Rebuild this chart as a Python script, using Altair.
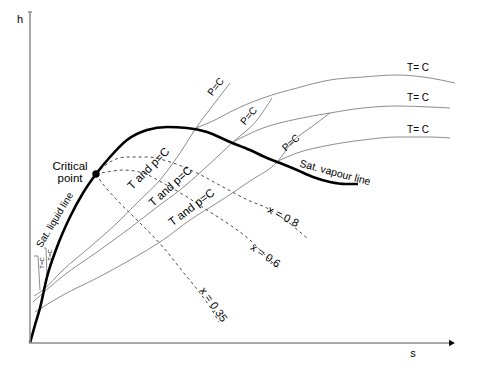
import altair as alt
import pandas as pd

# Schematic h-s (Mollier) diagram; s and h in arbitrary diagram units
sat_s = [0, 5, 10, 17, 27, 40, 53, 66, 80, 97, 117, 137, 157, 177, 200, 220, 237, 250, 267, 283, 300, 315, 328]
sat_h = [0, 18, 35, 66, 96, 126, 150, 169, 186, 203, 213, 216, 215, 211, 201, 193, 185, 180, 173, 166, 161, 159, 159]

crit_s = [66]
crit_h = [169]

p1_s = [4, 13, 33, 60, 87, 110, 130, 150, 166, 187, 200]
p1_h = [47, 53, 73, 96, 120, 143, 163, 190, 215, 243, 260]
p2_s = [3, 33, 67, 100, 127, 150, 173, 203, 227, 242]
p2_h = [41, 67, 91, 115, 136, 153, 173, 201, 223, 245]
p3_s = [5, 33, 67, 100, 133, 160, 187, 220, 248, 263, 280, 300]
p3_h = [31, 48, 65, 83, 103, 123, 140, 162, 182, 202, 215, 230]

t1_s = [166, 185, 200, 233, 267, 300, 333, 367, 393, 425]
t1_h = [215, 223, 231, 245, 255, 263, 266, 268, 266, 260]
t2_s = [203, 233, 267, 300, 333, 367, 400, 420]
t2_h = [201, 215, 224, 230, 235, 237, 236, 235]
t3_s = [248, 267, 300, 333, 367, 400, 420]
t3_h = [182, 190, 198, 203, 206, 206, 205]

tl1_s = [4, 8, 8, 10]
tl1_h = [87, 87, 87, 53]
tl2_s = [14, 16, 16, 17]
tl2_h = [95, 95, 95, 65]

x08_s = [66, 80, 97, 117, 140, 167, 193, 220, 237, 255, 277]
x08_h = [169, 181, 186, 186, 181, 170, 156, 142, 135, 123, 105]
x06_s = [66, 77, 93, 113, 133, 157, 180, 200, 220, 235, 248]
x06_h = [169, 171, 173, 170, 160, 146, 131, 118, 103, 88, 75]
x035_s = [66, 70, 87, 110, 133, 153, 170, 180, 189]
x035_h = [169, 163, 143, 120, 96, 71, 50, 36, 21]

axis_s = [0, 0, 420]
axis_h = [331, 0, 0]
cap_s = [-2, 2]
cap_h = [331, 331]
arrow_s = [422]
arrow_h = [0]

labels = ["h", "s", "Critical", "point", "Sat. liquid line",
          "T and p=C", "T and p=C", "T and p=C",
          "P=C", "P=C", "P=C", "T= C", "T= C", "T= C",
          "Sat. vapour line", "x = 0.8", "x = 0.6", "x = 0.35", "T=C", "T=C"]
label_s = [-10, 383, 40, 40, 25, 119, 141, 162, 186, 219, 261, 388, 388, 388, 305, 253, 235, 183, 12, 20]
label_h = [323, -11, 176, 164, 123, 174, 156, 135, 256, 227, 200, 275, 245, 213, 170, 126, 87, 38, 80, 88]
label_angle = [0, 0, 0, 0, 301, 315, 318, 323, 308, 310, 318, 0, 0, 0, 15, 27, 35, 55, 270, 270]
label_size = [11, 11, 11.5, 11.5, 10, 11.5, 11.5, 11.5, 10, 10, 10, 10, 10, 10, 10.5, 11, 11, 11, 6, 6]


def curves(pairs):
    rows = []
    for name, ss, hh in pairs:
        for i, (a, b) in enumerate(zip(ss, hh)):
            rows.append({"curve": name, "i": i, "s": a, "h": b})
    return pd.DataFrame(rows)


xs = alt.Scale(domain=[-22, 444], nice=False, zero=False)
ys = alt.Scale(domain=[-18, 335], nice=False, zero=False)
X = alt.X("s:Q", scale=xs, axis=None)
Y = alt.Y("h:Q", scale=ys, axis=None)

thin = curves([("p1", p1_s, p1_h), ("p2", p2_s, p2_h), ("p3", p3_s, p3_h),
               ("t1", t1_s, t1_h), ("t2", t2_s, t2_h), ("t3", t3_s, t3_h)])
small = curves([("tl1", tl1_s, tl1_h), ("tl2", tl2_s, tl2_h)])
dashed = curves([("x08", x08_s, x08_h), ("x06", x06_s, x06_h), ("x035", x035_s, x035_h)])
sat = curves([("sat", sat_s, sat_h)])
axes = curves([("axis", axis_s, axis_h), ("cap", cap_s, cap_h)])

thin_layer = alt.Chart(thin).mark_line(color="#808080", strokeWidth=0.9, interpolate="monotone").encode(
    x=X, y=Y, detail="curve:N", order="i:Q")
small_layer = alt.Chart(small).mark_line(color="#808080", strokeWidth=0.9).encode(
    x=X, y=Y, detail="curve:N", order="i:Q")
dash_layer = alt.Chart(dashed).mark_line(color="#4a4a4a", strokeWidth=1, strokeDash=[3, 3],
                                         interpolate="monotone").encode(
    x=X, y=Y, detail="curve:N", order="i:Q")
sat_layer = alt.Chart(sat).mark_line(color="black", strokeWidth=2.6, interpolate="monotone").encode(
    x=X, y=Y, order="i:Q")
axes_layer = alt.Chart(axes).mark_line(color="#8c8c8c", strokeWidth=1.5).encode(
    x=X, y=Y, detail="curve:N", order="i:Q")
crit_layer = alt.Chart(pd.DataFrame({"s": crit_s, "h": crit_h})).mark_circle(
    color="black", size=55, opacity=1).encode(x=X, y=Y)
arrow_layer = alt.Chart(pd.DataFrame({"s": arrow_s, "h": arrow_h})).mark_point(
    shape="triangle-right", filled=True, color="black", size=45, opacity=1).encode(x=X, y=Y)

lab = pd.DataFrame({"text": labels, "s": label_s, "h": label_h,
                    "angle": label_angle, "size": label_size})
text_layer = alt.Chart(lab).mark_text(
    font="Liberation Sans", color="black", align="center", baseline="middle").encode(
    x=X, y=Y, text="text:N",
    angle=alt.Angle("angle:Q", scale=None),
    size=alt.Size("size:Q", scale=None))

chart = alt.layer(
    thin_layer, small_layer, dash_layer, sat_layer, axes_layer, crit_layer, arrow_layer, text_layer
).properties(
    width=466, height=353, padding=0, autosize=alt.AutoSizeParams(type="none"),
    background="white"
).configure_view(stroke=None)

chart.save("out.html", embed_options={"renderer": "svg", "actions": False})
